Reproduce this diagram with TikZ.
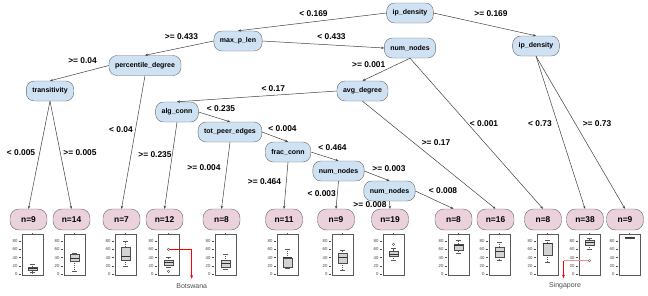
\documentclass[tikz,border=0pt]{standalone}
\usepackage{fontspec}
\setmainfont{Liberation Sans}
\usepackage{tikz}
\usetikzlibrary{arrows.meta}
\definecolor{splitblue}{RGB}{207,226,243}
\definecolor{leafpink}{RGB}{234,209,220}
\definecolor{edgegray}{RGB}{64,64,64}
\definecolor{boxgray}{RGB}{211,211,211}

\begin{document}
\begin{tikzpicture}[
  x=1pt, y=-1pt,
  declare function={bv(\v)=274.3-0.416*\v;},
  every node/.style={font=\fontsize{8.4}{10}\selectfont\bfseries},
  split/.style={draw=gray!80!black,fill=splitblue,rounded corners=8pt,minimum height=20pt,inner xsep=6pt,inner ysep=0pt,font=\fontsize{7}{8}\selectfont\bfseries},
  leaf/.style={draw=gray!80!black,fill=leafpink,rounded corners=9pt,minimum height=21pt,minimum width=37pt,inner sep=0pt},
  arrow/.style={-{Stealth[length=3pt,width=2.4pt]},edgegray,line width=0.5pt},
  lbl/.style={inner sep=0pt},
  frame/.style={draw=gray!70!black,line width=0.4pt},
  axl/.style={font=\fontsize{4.3}{5}\selectfont,text=black!75,anchor=east,inner sep=0pt},
  note/.style={font=\fontsize{7}{8}\selectfont,text=black!70,inner sep=0pt},
  pointer/.style={red,line width=0.9pt,-{Stealth[length=3.5pt,width=3pt]}}
]
  \useasboundingbox (0,0) rectangle (648,295);

  % split nodes
  \node[split] (ipd) at (410,13) {ip\_density};
  \node[split] (ipd2) at (536,46) {ip\_density};
  \node[split] (mpl) at (238,41) {max\_p\_len};
  \node[split] (nn1) at (410,48) {num\_nodes};
  \node[split] (pdeg) at (145,65.5) {percentile\_degree};
  \node[split] (trans) at (50,91) {transitivity};
  \node[split] (avgd) at (362.5,91) {avg\_degree};
  \node[split] (alg) at (177,112) {alg\_conn};
  \node[split] (tpe) at (230,132) {tot\_peer\_edges};
  \node[split] (frac) at (288,152) {frac\_conn};
  \node[split] (nn2) at (338.5,171) {num\_nodes};
  \node[split] (nn3) at (389.5,191) {num\_nodes};

  % leaves
  \node[leaf] (l1) at (28.5,219.5) {n=9};
  \node[leaf] (l2) at (71.5,219.5) {n=14};
  \node[leaf] (l3) at (121.5,219.5) {n=7};
  \node[leaf] (l4) at (164.5,219.5) {n=12};
  \node[leaf] (l5) at (221.5,219.5) {n=8};
  \node[leaf] (l6) at (284,219.5) {n=11};
  \node[leaf] (l7) at (336,219.5) {n=9};
  \node[leaf] (l8) at (390,219.5) {n=19};
  \node[leaf] (l9) at (453.5,219.5) {n=8};
  \node[leaf] (l10) at (495.5,219.5) {n=16};
  \node[leaf] (l11) at (543,219.5) {n=8};
  \node[leaf] (l12) at (585,219.5) {n=38};
  \node[leaf] (l13) at (625,219.5) {n=9};

  % edges
  \draw[arrow] (ipd.west) -- (mpl.north);
  \draw[arrow] (ipd.east) -- (ipd2.north);
  \draw[arrow] (mpl.west) -- (pdeg.north);
  \draw[arrow] (mpl.east) -- (nn1.west);
  \draw[arrow] (pdeg.west) -- (trans.north);
  \draw[arrow] (pdeg.south) -- (l3.north);
  \draw[arrow] (trans.south) -- (l1.north);
  \draw[arrow] (trans.south) -- (l2.north);
  \draw[arrow] (nn1.south) -- (avgd.north);
  \draw[arrow] (nn1.south) -- (l11.north);
  \draw[arrow] (avgd.west) -- (alg.north);
  \draw[arrow] (avgd.south) -- (l10.north);
  \draw[arrow] (ipd2.south) -- (l12.north);
  \draw[arrow] (ipd2.south) -- (l13.north);
  \draw[arrow] (alg.south) -- (l4.north);
  \draw[arrow] (alg.east) -- (tpe.north);
  \draw[arrow] (tpe.south) -- (l5.north);
  \draw[arrow] (tpe.east) -- (frac.north);
  \draw[arrow] (frac.south) -- (l6.north);
  \draw[arrow] (frac.east) -- (nn2.north);
  \draw[arrow] (nn2.south) -- (l7.north);
  \draw[arrow] (nn2.east) -- (nn3.north);
  \draw[arrow] (nn3.south) -- (l8.north);
  \draw[arrow] (nn3.east) -- (l9.north);

  % edge labels
  \node[lbl] (e1) at (313.5,14) {< 0.169};
  \node[lbl] (e2) at (491,14) {>= 0.169};
  \node[lbl] (e3) at (181.5,37) {>= 0.433};
  \node[lbl] (e4) at (331.5,37) {< 0.433};
  \node[lbl] (e5) at (82.5,61) {>= 0.04};
  \node[lbl] (e6) at (121,130) {< 0.04};
  \node[lbl] (e7) at (21,152.7) {< 0.005};
  \node[lbl] (e8) at (80,152.7) {>= 0.005};
  \node[lbl] (e9) at (155,155) {>= 0.235};
  \node[lbl] (e10) at (204,167.3) {>= 0.004};
  \node[lbl] (e11) at (264.5,181.7) {>= 0.464};
  \node[lbl] (e12) at (321.7,194) {< 0.003};
  \node[lbl] (e13) at (370,204.7) {>= 0.008};
  \node[lbl] (e14) at (443,190.7) {< 0.008};
  \node[lbl] (e15) at (389,168.3) {>= 0.003};
  \node[lbl] (e16) at (332.5,147.7) {< 0.464};
  \node[lbl] (e17) at (282.5,128.3) {< 0.004};
  \node[lbl] (e18) at (221,109) {< 0.235};
  \node[lbl] (e19) at (273.3,88.3) {< 0.17};
  \node[lbl] (e20) at (368.7,65) {>= 0.001};
  \node[lbl] (e21) at (484,124) {< 0.001};
  \node[lbl] (e22) at (540,124) {< 0.73};
  \node[lbl] (e23) at (597,124) {>= 0.73};
  \node[lbl] (e24) at (436,142.7) {>= 0.17};

  % boxplots under the leaves
  \foreach \xl/\lo/\qa/\md/\qb/\hi in {22/4/9/13/17/24, 64/8/32/38/48/50,
      115/20/34/43/66/80, 158/17/22/28/33/42, 215/12/17/26/33/48,
      277/15/16/40/40/60, 332/10/27/40/50/57, 383/33/43/48/55/62,
      448/52/57/70/73/82, 489/35/42/55/65/78, 537/30/47/74/75/82,
      579/60/70/76/81/86, 619/86/87/88/89/89} {
    \draw[frame,fill=white] (\xl,234) rectangle ++(21,41);
    \draw[frame] (\xl+10.5,234) -- ++(0,-1.5);
    \draw[gray!70!black,line width=0.3pt,dash pattern=on 1pt off 1pt]
      (\xl+10.5,{bv(\qb)}) -- (\xl+10.5,{bv(\hi)})
      (\xl+10.5,{bv(\qa)}) -- (\xl+10.5,{bv(\lo)});
    \draw[gray!70!black,line width=0.3pt]
      (\xl+8.2,{bv(\hi)}) -- (\xl+12.8,{bv(\hi)})
      (\xl+8.2,{bv(\lo)}) -- (\xl+12.8,{bv(\lo)});
    \draw[gray!60!black,fill=boxgray,line width=0.3pt] (\xl+6,{bv(\qa)}) rectangle (\xl+15,{bv(\qb)});
    \draw[black!80,line width=0.8pt] (\xl+6,{bv(\md)}) -- (\xl+15,{bv(\md)});
    \foreach \t in {0,20,...,80} {
      \draw[black!70,line width=0.35pt] (\xl-3.5,{bv(\t)}) -- (\xl-1,{bv(\t)});
      \node[axl] (ax-\xl-\t) at (\xl-4.3,{bv(\t)}) {\t};
    }
  }

  % outliers
  \node[draw=gray!60!black,circle,inner sep=0pt,minimum size=2.6pt,line width=0.3pt] (botsout) at (168.5,{bv(60)}) {};
  \node[draw=gray!60!black,circle,inner sep=0pt,minimum size=2.6pt,line width=0.3pt] (o2) at (168.5,{bv(7)}) {};
  \node[draw=gray!60!black,circle,inner sep=0pt,minimum size=2.6pt,line width=0.3pt] (o3) at (393.5,{bv(72)}) {};
  \node[draw=gray!60!black,circle,inner sep=0pt,minimum size=2.6pt,line width=0.3pt] (sgout) at (589.5,{bv(33)}) {};

  % country notes
  \node[note] (botswana) at (191.7,285.7) {Botswana};
  \node[note] (singapore) at (565,285.7) {Singapore};
  \coordinate (sgturn) at (563.5,{bv(33)});
  \draw[pointer] (botsout.east) -| ([yshift=4.5pt]botswana.north);
  \draw[red!45,line width=1.2pt] (sgout.west) -- (sgturn);
  \draw[pointer] (sgturn) -- ([yshift=4pt]singapore.north -| sgturn);
\end{tikzpicture}
\end{document}
